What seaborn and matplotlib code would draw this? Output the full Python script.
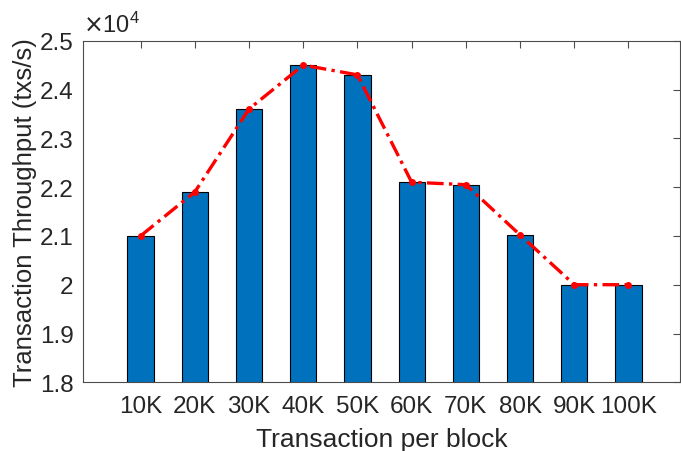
import seaborn as sns
import matplotlib
matplotlib.use("Agg")
import matplotlib.pyplot as plt
from matplotlib.ticker import FuncFormatter
import numpy as np

# transactions per block vs throughput
block_sizes = ["10K", "20K", "30K", "40K", "50K", "60K", "70K", "80K", "90K", "100K"]
throughput = [21000, 21900, 23600, 24500, 24300, 22100, 22050, 21020, 20000, 20000]
y_ticks = [18000, 19000, 20000, 21000, 22000, 23000, 24000, 25000]

sns.set_style("white")
plt.rcParams['font.family'] = ['Liberation Sans', 'DejaVu Sans']

fig = plt.figure(figsize=(6.81, 4.52), dpi=100)
ax = fig.add_axes([83.3 / 681, 1 - 383.3 / 452, (680 - 83.3) / 681, (383.3 - 41.7) / 452])

sns.barplot(x=block_sizes, y=throughput, color="#0072BD", saturation=1,
            width=0.485, edgecolor="black", linewidth=0.8, ax=ax)
ax.plot(np.arange(len(block_sizes)), throughput, color="red",
        linewidth=2.4, dashes=(5, 1.6, 1, 1.6), marker="o", markersize=4)

ax.set_ylim(18000, 25000)
ax.set_xlim(-1.057, 9.95)
ax.set_yticks(y_ticks)
ax.yaxis.set_major_formatter(FuncFormatter(lambda v, p: f"{v / 1e4:g}"))

gray = "#262626"
for s in ax.spines.values():
    s.set_visible(True)
    s.set_color("#4d4d4d")
    s.set_linewidth(0.8)
ax.tick_params(direction="in", length=5, width=0.8, color="#4d4d4d",
               top=True, right=True, labelsize=17.5, labelcolor=gray)
ax.tick_params(axis="x", pad=9)
ax.tick_params(axis="y", pad=7)
ax.set_xlabel("Transaction per block", fontsize=19, color=gray, labelpad=7)
ax.set_ylabel("Transaction Throughput (txs/s)", fontsize=18.5, color=gray, labelpad=2)
ax.text(0.0, 1.01, r"$\times\mathregular{10^{4}}$", transform=ax.transAxes,
        fontsize=17, color=gray, ha="left", va="bottom")

fig.savefig("out.png", dpi=100)
